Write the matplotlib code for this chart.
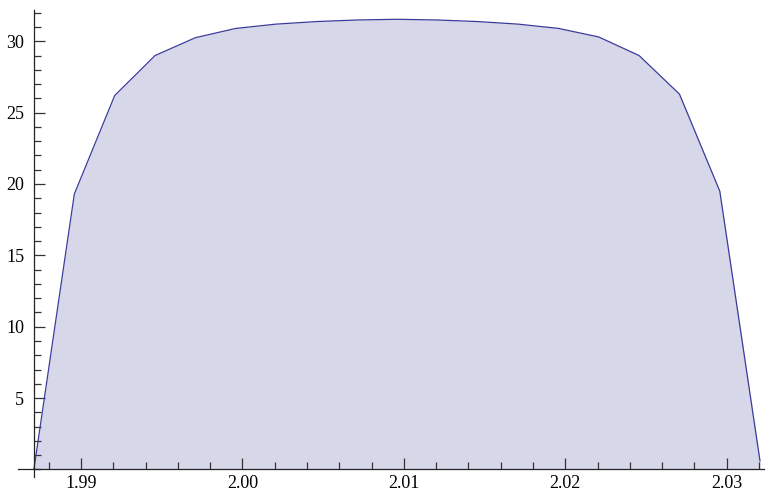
import matplotlib
matplotlib.use("Agg")
import matplotlib.pyplot as plt
from matplotlib.ticker import FixedLocator, MultipleLocator, FormatStrFormatter

x_vals = [1.98709, 1.98959, 1.99209, 1.99459, 1.99709, 1.99959, 2.00208,
          2.00458, 2.00708, 2.00958, 2.01208, 2.01458, 2.01708, 2.01958,
          2.02207, 2.02457, 2.02707, 2.02957, 2.03206]
y_vals = [0.05, 19.3, 26.2, 29.0, 30.25, 30.9, 31.2, 31.38, 31.49, 31.54,
          31.49, 31.38, 31.2, 30.9, 30.3, 29.0, 26.3, 19.5, 0.6]
x_ticks = [1.99, 2.00, 2.01, 2.02, 2.03]
y_ticks = [5, 10, 15, 20, 25, 30]

W, H = 765, 490
fig = plt.figure(figsize=(W / 100, H / 100), dpi=100)
ax = fig.add_axes([18 / W, 13 / H, 1 - 18 / W, (477 - 10) / H])

fill_c = "#d7d7ea"
line_c = "#3b3b9c"
ax.fill_between(x_vals, 0, y_vals, color=fill_c, lw=0, zorder=1)
ax.plot(x_vals, y_vals, color=line_c, lw=0.9, zorder=2)

ax.set_xlim(1.98610, 2.03237)
ax.set_ylim(-0.53, 32.19)

for s in ["top", "right"]:
    ax.spines[s].set_visible(False)
ax.spines["left"].set_position(("data", x_vals[0]))
ax.spines["bottom"].set_position(("data", 0))
for s in ["left", "bottom"]:
    ax.spines[s].set_color("#222222")
    ax.spines[s].set_linewidth(0.9)

ax.xaxis.set_major_locator(FixedLocator(x_ticks))
ax.xaxis.set_minor_locator(MultipleLocator(0.002))
ax.yaxis.set_major_locator(FixedLocator(y_ticks))
ax.yaxis.set_minor_locator(MultipleLocator(1))
ax.xaxis.set_major_formatter(FormatStrFormatter("%.2f"))

ax.tick_params(axis="both", which="both", direction="in", colors="#333333",
               labelcolor="black", labelsize=13, width=0.9)
ax.tick_params(axis="both", which="major", length=8)
ax.tick_params(axis="both", which="minor", length=5)
ax.tick_params(axis="x", which="major", pad=4)
ax.tick_params(axis="y", which="major", pad=7)
for lab in ax.get_xticklabels() + ax.get_yticklabels():
    lab.set_family("Liberation Serif")

fig.savefig("out.png", dpi=100)
